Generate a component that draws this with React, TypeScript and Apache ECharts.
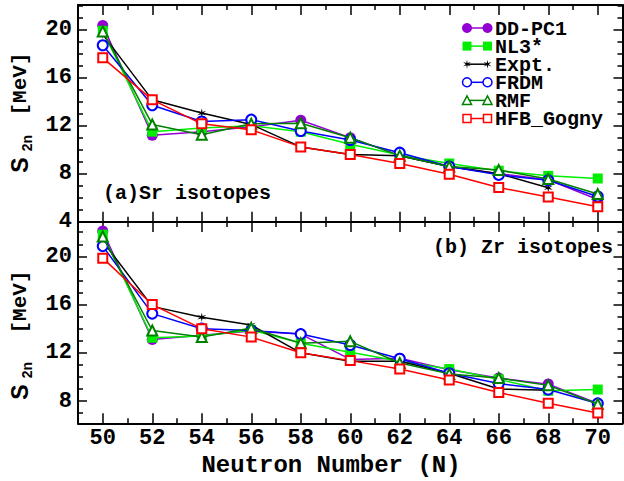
import React, { useEffect, useRef } from "react";
import * as echarts from "echarts";

// ---------- data ----------
const neutronNumbers = [50, 52, 54, 56, 58, 60, 62, 64, 66, 68, 70];
const xMajorTicks = [50, 52, 54, 56, 58, 60, 62, 64, 66, 68, 70];
const xMinorTicks = [51, 53, 55, 57, 59, 61, 63, 65, 67, 69];
const topYMajor = [4, 8, 12, 16, 20];
const topYMinor = [5, 6, 7, 9, 10, 11, 13, 14, 15, 17, 18, 19, 21, 22];
const bottomYMajor = [8, 12, 16, 20];
const bottomYMinor = [7, 9, 10, 11, 13, 14, 15, 17, 18, 19, 21, 22];

const seriesNames = ["DD-PC1", "NL3*", "Expt.", "FRDM", "RMF", "HFB_Gogny"];

// (a) Sr isotopes
const ddpc1Sr = [20.35, 11.2, 11.5, 11.9, 12.45, 11.0, 9.5, 8.6, 8.0, 7.5, 5.85];
const nl3Sr = [19.9, 11.5, 11.8, 12.0, 11.5, 10.45, 9.55, 8.85, 8.25, 7.82, 7.6];
const exptSr = [19.6, 14.15, 13.05, 12.1, 10.23, 9.6, 9.5, 8.6, 8.0, 6.82, null];
const frdmSr = [18.7, 13.7, 12.35, 12.5, 11.55, 10.8, 9.75, 8.6, 7.9, 7.45, 6.1];
const rmfSr = [19.85, 12.1, 11.25, 12.15, 12.2, 11.0, 9.5, 8.6, 8.3, 7.55, 6.3];
const hfbSr = [17.65, 14.15, 12.15, 11.65, 10.23, 9.6, 8.85, 7.95, 6.85, 6.05, 5.25];

// (b) Zr isotopes
const ddpc1Zr = [22.1, 13.1, 13.45, 13.8, 13.55, 11.45, 11.55, 10.6, 9.9, 9.4, 7.8];
const nl3Zr = [21.8, 13.25, 13.4, 13.9, 12.8, 12.05, 11.3, 10.65, 9.8, 8.85, 8.95];
const exptZr = [21.25, 15.85, 14.95, 14.3, 12.0, 11.3, 11.3, 10.3, 9.0, 8.9, null];
const frdmZr = [20.85, 15.25, 14.0, 13.85, 13.55, 12.65, 11.5, 10.3, 9.45, 8.95, 7.8];
const rmfZr = [21.65, 13.85, 13.3, 14.05, 12.8, 12.95, 11.15, 10.25, 9.9, 9.3, 7.75];
const hfbZr = [19.85, 16.0, 14.0, 13.3, 12.0, 11.35, 10.65, 9.75, 8.7, 7.82, 7.0];

const srValues = [ddpc1Sr, nl3Sr, exptSr, frdmSr, rmfSr, hfbSr];
const zrValues = [ddpc1Zr, nl3Zr, exptZr, frdmZr, rmfZr, hfbZr];

// ---------- styles ----------
const MONO = "'Liberation Mono', 'Courier New', monospace";
const SANS = "'Liberation Sans', Arial, sans-serif";
const colors = ["#9400D3", "#00EE00", "#000000", "#0000FF", "#008000", "#FF0000"];
const kinds = ["dot", "square", "star", "ocircle", "otri", "osquare"];

function starPoints(cx: number, cy: number, r: number, n = 6, inner = 0.3) {
  const pts: number[][] = [];
  for (let i = 0; i < n * 2; i++) {
    const rr = i % 2 === 0 ? r : r * inner;
    const a = (Math.PI * i) / n - Math.PI / 2;
    pts.push([cx + rr * Math.cos(a), cy + rr * Math.sin(a)]);
  }
  return pts;
}
const starSymbol =
  "path://" +
  starPoints(10, 10, 10)
    .map((p, i) => (i === 0 ? "M" : "L") + p[0].toFixed(2) + " " + p[1].toFixed(2))
    .join(" ") +
  " Z";

const symbolOf: Record<string, string> = {
  dot: "circle",
  square: "rect",
  star: starSymbol,
  ocircle: "emptyCircle",
  otri: "emptyTriangle",
  osquare: "emptyRect",
};
const sizeOf: Record<string, number> = {
  dot: 11,
  square: 10,
  star: 9,
  ocircle: 10,
  otri: 10,
  osquare: 9,
};

function xAx(grid: number, position: string, ticks: number[], len: number, major: boolean, labels: boolean) {
  return {
    type: "value",
    gridIndex: grid,
    position,
    min: 49,
    max: 71,
    axisLine: { show: major, onZero: false, lineStyle: { color: "#000", width: 2 } },
    axisTick: { show: true, inside: true, length: len, customValues: ticks, lineStyle: { color: "#000", width: 1.5 } },
    axisLabel: {
      show: labels,
      customValues: ticks,
      margin: 4,
      color: "#000",
      fontFamily: MONO,
      fontWeight: "bold",
      fontSize: 22,
    },
    splitLine: { show: false },
  };
}

function yAx(grid: number, position: string, min: number, max: number, ticks: number[], len: number, major: boolean, labels: boolean) {
  return {
    type: "value",
    gridIndex: grid,
    position,
    min,
    max,
    axisLine: { show: major, onZero: false, lineStyle: { color: "#000", width: 2 } },
    axisTick: { show: true, inside: true, length: len, customValues: ticks, lineStyle: { color: "#000", width: 1.5 } },
    axisLabel: {
      show: labels,
      customValues: ticks,
      margin: 6,
      color: "#000",
      fontFamily: MONO,
      fontWeight: "bold",
      fontSize: 22,
    },
    splitLine: { show: false },
  };
}

function legendMarker(kind: string, cx: number, cy: number, color: string): any {
  const lw = 1.5;
  switch (kind) {
    case "dot":
      return { type: "circle", shape: { cx, cy, r: 5 }, style: { fill: color } };
    case "square":
      return { type: "rect", shape: { x: cx - 4.5, y: cy - 4.5, width: 9, height: 9 }, style: { fill: color } };
    case "star":
      return { type: "polygon", shape: { points: starPoints(cx, cy, 4.5) }, style: { fill: color } };
    case "ocircle":
      return { type: "circle", shape: { cx, cy, r: 4.5 }, style: { fill: "#fff", stroke: color, lineWidth: lw } };
    case "otri":
      return {
        type: "polygon",
        shape: { points: [[cx, cy - 4.5], [cx - 4.5, cy + 4], [cx + 4.5, cy + 4]] },
        style: { fill: "#fff", stroke: color, lineWidth: lw },
      };
    default:
      return {
        type: "rect",
        shape: { x: cx - 4, y: cy - 4, width: 8, height: 8 },
        style: { fill: "#fff", stroke: color, lineWidth: lw },
      };
  }
}

function buildOption() {
  const grids = [
    { left: 78, right: 1.5, top: 5, height: 216.7 },
    { left: 78, right: 1.5, top: 222, height: 201.3 },
  ];

  const xAxis: any[] = [];
  const yAxis: any[] = [];
  [0, 1].forEach((g) => {
    xAxis.push(xAx(g, "bottom", xMajorTicks, 10, true, g === 1));
    xAxis.push(xAx(g, "bottom", xMinorTicks, 5, false, false));
    xAxis.push(xAx(g, "top", xMajorTicks, 10, true, false));
    xAxis.push(xAx(g, "top", xMinorTicks, 5, false, false));
    const min = g === 0 ? 4 : 6.15;
    const max = g === 0 ? 22.05 : 22.85;
    const maj = g === 0 ? topYMajor : bottomYMajor;
    const mnr = g === 0 ? topYMinor : bottomYMinor;
    yAxis.push(yAx(g, "left", min, max, maj, 9, true, true));
    yAxis.push(yAx(g, "left", min, max, mnr, 5, false, false));
    yAxis.push(yAx(g, "right", min, max, maj, 9, true, false));
    yAxis.push(yAx(g, "right", min, max, mnr, 5, false, false));
  });

  const series: any[] = [];
  [srValues, zrValues].forEach((vals, g) => {
    seriesNames.forEach((name, i) => {
      const k = kinds[i];
      const data = neutronNumbers
        .map((n, j) => [n, vals[i][j]])
        .filter((p) => p[1] !== null);
      series.push({
        name,
        type: "line",
        xAxisIndex: g * 4,
        yAxisIndex: g * 4,
        data,
        symbol: symbolOf[k],
        symbolSize: sizeOf[k],
        lineStyle: { color: colors[i], width: 1.5 },
        itemStyle: { color: colors[i], borderWidth: 1.5 },
        z: 2 + i,
      });
    });
  });

  const graphic: any[] = [];
  // legend (markers + one multi-line text block)
  const legendTop = 28;
  const legendStep = 18.1;
  seriesNames.forEach((name, i) => {
    const y = legendTop + i * legendStep;
    const x1 = 467;
    const x2 = 487.5;
    graphic.push({ type: "line", shape: { x1, y1: y, x2, y2: y }, style: { stroke: colors[i], lineWidth: 1.5 }, z: 100 });
    graphic.push({ ...legendMarker(kinds[i], x1, y, colors[i]), z: 101 });
    graphic.push({ ...legendMarker(kinds[i], x2, y, colors[i]), z: 101 });
  });
  graphic.push({
    type: "text",
    x: 495,
    y: legendTop - legendStep / 2 + 1,
    z: 101,
    style: {
      text: seriesNames.join("\n"),
      fontFamily: MONO,
      fontWeight: "bold",
      fontSize: 20,
      lineHeight: legendStep,
      fill: "#000",
      verticalAlign: "top",
      align: "left",
    },
  });
  // panel labels
  graphic.push({
    type: "text",
    x: 103,
    y: 193,
    style: { text: "(a)Sr isotopes", fontFamily: MONO, fontWeight: "bold", fontSize: 20, fill: "#000", verticalAlign: "middle" },
  });
  graphic.push({
    type: "text",
    x: 433,
    y: 247,
    style: { text: "(b) Zr isotopes", fontFamily: MONO, fontWeight: "bold", fontSize: 20, fill: "#000", verticalAlign: "middle" },
  });
  // x axis name
  graphic.push({
    type: "text",
    x: 331,
    y: 465,
    style: { text: "Neutron Number (N)", fontFamily: MONO, fontWeight: "bold", fontSize: 24, fill: "#000", verticalAlign: "middle", align: "center" },
  });
  // y axis names
  const yNames = [
    { s: 165, sub: 143, unit: 84 },
    { s: 392, sub: 370, unit: 302 },
  ];
  yNames.forEach((p) => {
    graphic.push({
      type: "text",
      x: 20,
      y: p.s,
      rotation: Math.PI / 2,
      style: { text: "S", fontFamily: SANS, fontWeight: "bold", fontSize: 23, fill: "#000", verticalAlign: "middle", align: "center" },
    });
    graphic.push({
      type: "text",
      x: 27,
      y: p.sub,
      rotation: Math.PI / 2,
      style: { text: "2n", fontFamily: SANS, fontWeight: "bold", fontSize: 14, fill: "#000", verticalAlign: "middle", align: "center" },
    });
    graphic.push({
      type: "text",
      x: 20,
      y: p.unit,
      rotation: Math.PI / 2,
      style: { text: "[MeV]", fontFamily: MONO, fontWeight: "bold", fontSize: 21, fill: "#000", verticalAlign: "middle", align: "center" },
    });
  });

  return {
    animation: false,
    backgroundColor: "#fff",
    grid: grids,
    xAxis,
    yAxis,
    series,
    graphic,
  };
}

export default function App() {
  const ref = useRef<HTMLDivElement>(null);
  useEffect(() => {
    if (!ref.current) return;
    const chart = echarts.init(ref.current, null, { renderer: "svg" });
    chart.setOption(buildOption() as any);
    return () => chart.dispose();
  }, []);
  return <div ref={ref} style={{ width: 624, height: 481, position: "absolute", left: 0, top: 0 }} />;
}
